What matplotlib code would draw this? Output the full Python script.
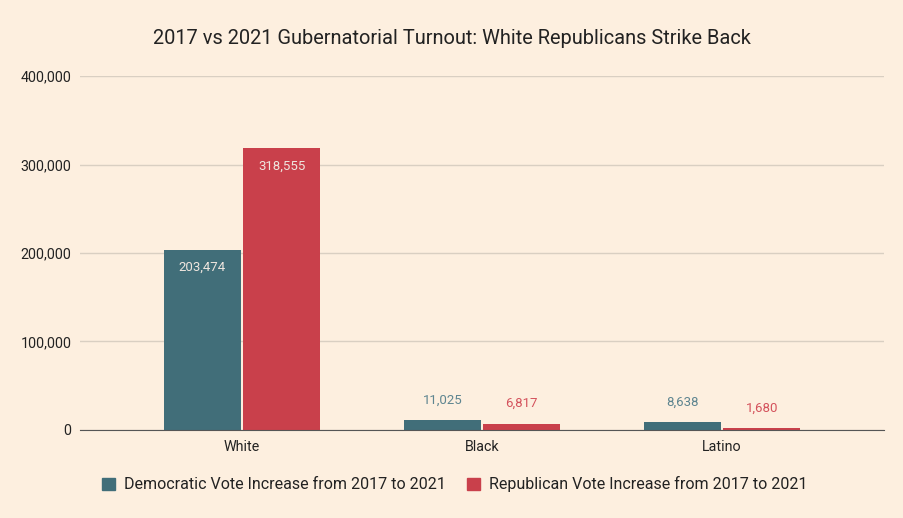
import numpy as np
import matplotlib.pyplot as plt
from matplotlib.ticker import FuncFormatter
from matplotlib.patches import Patch

plt.rcParams['font.family'] = ['Roboto', 'DejaVu Sans']

# data
groups = ['White', 'Black', 'Latino']
dem_increase = [203474, 11025, 8638]
rep_increase = [318555, 6817, 1680]

bg = '#fdefdf'
dem_color = '#416e79'
rep_color = '#c9404b'

fig = plt.figure(figsize=(9.04, 5.18), dpi=100, facecolor=bg)
ax = fig.add_axes([0.0885, 0.170, 0.8895, 0.683], facecolor=bg)

x = np.arange(len(groups))
w = 0.32
gap = 0.005
dem_bars = ax.bar(x - w / 2 - gap, dem_increase, w, color=dem_color, zorder=3)
rep_bars = ax.bar(x + w / 2 + gap, rep_increase, w, color=rep_color, zorder=3)

# value labels: inside for tall bars, above for short ones
for bars, vals, outcol in [(dem_bars, dem_increase, '#5e8590'),
                           (rep_bars, rep_increase, '#d4525c')]:
    for b, v in zip(bars, vals):
        cx = b.get_x() + b.get_width() / 2
        if v > 100000:
            ax.annotate(f'{v:,}', (cx, v), xytext=(0, -8), textcoords='offset points',
                        ha='center', va='top', color='#efe6df', fontsize=9.5, zorder=4)
        else:
            ax.annotate(f'{v:,}', (cx, v), xytext=(0, 10), textcoords='offset points',
                        ha='center', va='bottom', color=outcol, fontsize=9.5, zorder=4)

ax.set_xlim(-0.675, 2.675)
ax.set_ylim(0, 400000)
ax.set_yticks([0, 100000, 200000, 300000, 400000])
ax.yaxis.set_major_formatter(FuncFormatter(lambda v, p: f'{int(v):,}'))
ax.set_xticks(x)
ax.set_xticklabels(groups)
ax.tick_params(axis='both', length=0, labelsize=10.3, colors='#222222')
ax.tick_params(axis='y', pad=6)
ax.tick_params(axis='x', pad=7)
ax.grid(axis='y', color='#d9cfc2', linewidth=1, zorder=0)
for s in ['top', 'right', 'left']:
    ax.spines[s].set_visible(False)
ax.spines['bottom'].set_color('#555555')
ax.spines['bottom'].set_zorder(5)

fig.text(0.5, 0.925, '2017 vs 2021 Gubernatorial Turnout: White Republicans Strike Back',
         ha='center', va='center', fontsize=14.4, color='#222222')

handles = [Patch(color=dem_color, label='Democratic Vote Increase from 2017 to 2021'),
           Patch(color=rep_color, label='Republican Vote Increase from 2017 to 2021')]
fig.legend(handles=handles, loc='center', bbox_to_anchor=(0.503, 0.065), ncol=2,
           frameon=False, fontsize=11.5, handlelength=0.8, handleheight=0.8,
           handletextpad=0.6, columnspacing=1.3, labelcolor='#222222')

fig.savefig('out.png', dpi=100, facecolor=bg)
